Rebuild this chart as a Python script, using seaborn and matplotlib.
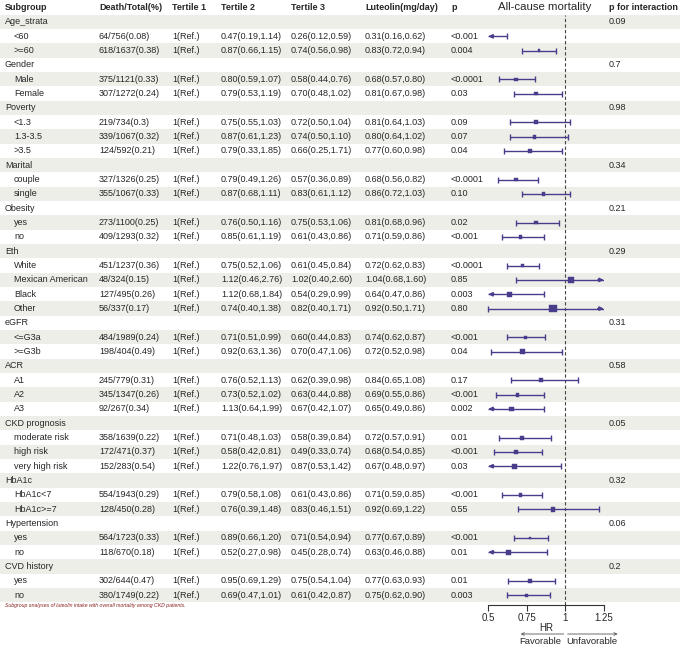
import matplotlib
matplotlib.use("Agg")
import matplotlib.pyplot as plt
import matplotlib.transforms as mtransforms
from matplotlib.patches import Rectangle
import numpy as np
import pandas as pd
import seaborn as sns

# ---- data ----
groups = ["Age_strata", "Gender", "Poverty", "Marital", "Obesity", "Eth", "eGFR",
          "ACR", "CKD prognosis", "HbA1c", "Hypertension", "CVD history"]
p_interaction = ["0.09", "0.7", "0.98", "0.34", "0.21", "0.29", "0.31", "0.58",
                 "0.05", "0.32", "0.06", "0.2"]
subgroups = [["<60", ">=60"], ["Male", "Female"], ["<1.3", "1.3-3.5", ">3.5"],
             ["couple", "single"], ["yes", "no"],
             ["White", "Mexican American", "Black", "Other"], ["<=G3a", ">=G3b"],
             ["A1", "A2", "A3"], ["moderate risk", "high risk", "very high risk"],
             ["HbA1c<7", "HbA1c>=7"], ["yes", "no"], ["yes", "no"]]

deaths = [64, 618, 375, 307, 219, 339, 124, 327, 355, 273, 409, 451, 48, 127, 56,
          484, 198, 245, 345, 92, 358, 172, 152, 554, 128, 564, 118, 302, 380]
totals = [756, 1637, 1121, 1272, 734, 1067, 592, 1326, 1067, 1100, 1293, 1237, 324,
          495, 337, 1989, 404, 779, 1347, 267, 1639, 471, 283, 1943, 450, 1723, 670,
          644, 1749]
tertile2 = ["0.47(0.19,1.14)", "0.87(0.66,1.15)", "0.80(0.59,1.07)", "0.79(0.53,1.19)",
            "0.75(0.55,1.03)", "0.87(0.61,1.23)", "0.79(0.33,1.85)", "0.79(0.49,1.26)",
            "0.87(0.68,1.11)", "0.76(0.50,1.16)", "0.85(0.61,1.19)", "0.75(0.52,1.06)",
            "1.12(0.46,2.76)", "1.12(0.68,1.84)", "0.74(0.40,1.38)", "0.71(0.51,0.99)",
            "0.92(0.63,1.36)", "0.76(0.52,1.13)", "0.73(0.52,1.02)", "1.13(0.64,1.99)",
            "0.71(0.48,1.03)", "0.58(0.42,0.81)", "1.22(0.76,1.97)", "0.79(0.58,1.08)",
            "0.76(0.39,1.48)", "0.89(0.66,1.20)", "0.52(0.27,0.98)", "0.95(0.69,1.29)",
            "0.69(0.47,1.01)"]
tertile3 = ["0.26(0.12,0.59)", "0.74(0.56,0.98)", "0.58(0.44,0.76)", "0.70(0.48,1.02)",
            "0.72(0.50,1.04)", "0.74(0.50,1.10)", "0.66(0.25,1.71)", "0.57(0.36,0.89)",
            "0.83(0.61,1.12)", "0.75(0.53,1.06)", "0.61(0.43,0.86)", "0.61(0.45,0.84)",
            "1.02(0.40,2.60)", "0.54(0.29,0.99)", "0.82(0.40,1.71)", "0.60(0.44,0.83)",
            "0.70(0.47,1.06)", "0.62(0.39,0.98)", "0.63(0.44,0.88)", "0.67(0.42,1.07)",
            "0.58(0.39,0.84)", "0.49(0.33,0.74)", "0.87(0.53,1.42)", "0.61(0.43,0.86)",
            "0.83(0.46,1.51)", "0.71(0.54,0.94)", "0.45(0.28,0.74)", "0.75(0.54,1.04)",
            "0.61(0.42,0.87)"]
hr = [0.31, 0.83, 0.68, 0.81, 0.81, 0.80, 0.77, 0.68, 0.86, 0.81, 0.71, 0.72, 1.04,
      0.64, 0.92, 0.74, 0.72, 0.84, 0.69, 0.65, 0.72, 0.68, 0.67, 0.71, 0.92, 0.77,
      0.63, 0.77, 0.75]
hr_lo = [0.16, 0.72, 0.57, 0.67, 0.64, 0.64, 0.60, 0.56, 0.72, 0.68, 0.59, 0.62, 0.68,
         0.47, 0.50, 0.62, 0.52, 0.65, 0.55, 0.49, 0.57, 0.54, 0.48, 0.59, 0.69, 0.67,
         0.46, 0.63, 0.62]
hr_hi = [0.62, 0.94, 0.80, 0.98, 1.03, 1.02, 0.98, 0.82, 1.03, 0.96, 0.86, 0.83, 1.60,
         0.86, 1.71, 0.87, 0.98, 1.08, 0.86, 0.86, 0.91, 0.85, 0.97, 0.85, 1.22, 0.89,
         0.88, 0.93, 0.90]
p_values = ["<0.001", "0.004", "<0.0001", "0.03", "0.09", "0.07", "0.04", "<0.0001",
            "0.10", "0.02", "<0.001", "<0.0001", "0.85", "0.003", "0.80", "<0.001",
            "0.04", "0.17", "<0.001", "0.002", "0.01", "<0.001", "0.03", "<0.001",
            "0.55", "<0.001", "0.01", "0.01", "0.003"]

# ---- build table rows ----
rows = []
k = 0
for g, subs, pint in zip(groups, subgroups, p_interaction):
    rows.append(dict(kind="group", label=g, pint=pint))
    for s in subs:
        pct = round(deaths[k] / totals[k], 2)
        rows.append(dict(kind="sub", label=s,
                         dt=f"{deaths[k]}/{totals[k]}({pct:g})",
                         t2=tertile2[k], t3=tertile3[k],
                         lut=f"{hr[k]:.2f}({hr_lo[k]:.2f},{hr_hi[k]:.2f})",
                         p=p_values[k], hr=hr[k], lo=hr_lo[k], hi=hr_hi[k]))
        k += 1

sns.set_theme(style="white")
plt.rcParams["font.family"] = ["Liberation Sans", "DejaVu Sans"]

W, H = 685, 649
fig = plt.figure(figsize=(W / 100, H / 100), dpi=100)
ax = fig.add_axes([0, 0, 1, 1])
ax.set_xlim(0, W)
ax.set_ylim(H, 0)
ax.axis("off")

txt = "#262626"
fs = 6.5
stripe = "#EEEEE9"
row_h = 14.33
y0 = 22
col_x = dict(group=5, sub=14, dt=99, t1=172, t2=221, t3=291, lut=365, p=451, pint=609)

# header
hy = 7
for key, lab in [("group", "Subgroup"), ("dt", "Death/Total(%)"), ("t1", "Tertile 1"),
                 ("t2", "Tertile 2"), ("t3", "Tertile 3"), ("lut", "Luteolin(mg/day)"),
                 ("p", "p"), ("pint", "p for interaction")]:
    ax.text(col_x[key], hy, lab, fontsize=fs, fontweight="bold", color=txt, va="center")
ax.text(545, hy, "All-cause mortality", fontsize=8.2, color=txt, va="center", ha="center")

ys = []
for i, r in enumerate(rows):
    y = y0 + i * row_h
    ys.append(y)
    if i % 2 == 0:
        ax.add_patch(Rectangle((0, y - row_h / 2), 680, row_h, color=stripe, lw=0, zorder=0))
    if r["kind"] == "group":
        ax.text(col_x["group"], y, r["label"], fontsize=fs, color=txt, va="center")
        ax.text(col_x["pint"], y, r["pint"], fontsize=fs, color=txt, va="center")
    else:
        ax.text(col_x["sub"], y, r["label"], fontsize=fs, color=txt, va="center")
        ax.text(col_x["dt"], y, r["dt"], fontsize=fs, color=txt, va="center")
        ax.text(col_x["t1"], y, "1(Ref.)", fontsize=fs, color=txt, va="center")
        ax.text(col_x["t2"], y, r["t2"], fontsize=fs, color=txt, va="center")
        ax.text(col_x["t3"], y, r["t3"], fontsize=fs, color=txt, va="center")
        ax.text(col_x["lut"], y, r["lut"], fontsize=fs, color=txt, va="center")
        ax.text(col_x["p"], y, r["p"], fontsize=fs, color=txt, va="center")

ax.text(5, 606, "Subgroup analyses of luteolin intake with overall mortality among CKD patients.",
        fontsize=3.7, style="italic", color="#8B2323", va="center")

# ---- forest panel ----
xmin, xmax = 0.5, 1.25
px_min, px_max = 488.3, 603.8
y_axis, y_top = 605, 14.8
ax2 = fig.add_axes([px_min / W, (H - y_axis) / H, (px_max - px_min) / W, (y_axis - y_top) / H])
ax2.set_xlim(xmin, xmax)
ax2.set_ylim(y_axis, y_top)
ax2.patch.set_visible(False)
for s in ["left", "right", "top"]:
    ax2.spines[s].set_visible(False)
ax2.spines["bottom"].set_color("#333333")
ax2.spines["bottom"].set_linewidth(0.8)
ax2.set_yticks([])
ax2.set_xticks([0.5, 0.75, 1, 1.25])
ax2.set_xticklabels(["0.5", "0.75", "1", "1.25"])
ax2.tick_params(axis="x", length=4, width=0.8, color="#333333", labelsize=7,
                labelcolor=txt, pad=1.5, bottom=True, direction="out")
ax2.axvline(1, color="#444444", lw=0.8, ls=(0, (3, 2)), zorder=1)

col = "#483D8B"
df = pd.DataFrame([dict(y=y, hr=r["hr"], lo=r["lo"], hi=r["hi"])
                   for y, r in zip(ys, rows) if r["kind"] == "sub"])
df["w"] = np.log(df["hi"] / df["lo"])

ax2.hlines(df["y"], df["lo"].clip(xmin, xmax), df["hi"].clip(xmin, xmax),
           color=col, lw=1.0, zorder=2)
for _, r in df.iterrows():
    if r["lo"] < xmin:
        ax2.annotate("", xy=(xmin, r["y"]), xytext=(xmin + 0.04, r["y"]),
                     arrowprops=dict(arrowstyle="-|>", color=col, lw=1.0,
                                     mutation_scale=6, shrinkA=0, shrinkB=0),
                     annotation_clip=False)
    else:
        ax2.plot(r["lo"], r["y"], marker="|", color=col, ms=4, mew=1.0, clip_on=False)
    if r["hi"] > xmax:
        ax2.annotate("", xy=(xmax, r["y"]), xytext=(xmax - 0.04, r["y"]),
                     arrowprops=dict(arrowstyle="-|>", color=col, lw=1.0,
                                     mutation_scale=6, shrinkA=0, shrinkB=0),
                     annotation_clip=False)
    else:
        ax2.plot(r["hi"], r["y"], marker="|", color=col, ms=4, mew=1.0, clip_on=False)

df_in = df[(df["hr"] >= xmin) & (df["hr"] <= xmax)]
sns.scatterplot(data=df_in, x="hr", y="y", size="w", sizes=(3, 28), marker="s",
                color=col, edgecolor=col, linewidth=0.3, legend=False, ax=ax2, zorder=3)
ax2.set_ylabel("")
ax2.set_xlabel("HR", fontsize=7, color=txt, labelpad=0)
ax2.set_ylim(y_axis, y_top)
ax2.set_xlim(xmin, xmax)

# favorable / unfavorable arrows
trans = mtransforms.blended_transform_factory(ax2.transData, ax.transData)
ax.annotate("", xy=(0.71, 634), xytext=(0.99, 634), xycoords=trans, textcoords=trans,
            arrowprops=dict(arrowstyle="->", color="#555555", lw=0.6,
                            mutation_scale=5, shrinkA=0, shrinkB=0))
ax.annotate("", xy=(1.34, 634), xytext=(1.015, 634), xycoords=trans, textcoords=trans,
            arrowprops=dict(arrowstyle="->", color="#555555", lw=0.6,
                            mutation_scale=5, shrinkA=0, shrinkB=0))
ax.text(0.84, 642, "Favorable", transform=trans, fontsize=6.8, color=txt,
        ha="center", va="center")
ax.text(1.175, 642, "Unfavorable", transform=trans, fontsize=6.8, color=txt,
        ha="center", va="center")

fig.savefig("out.png", dpi=100)
